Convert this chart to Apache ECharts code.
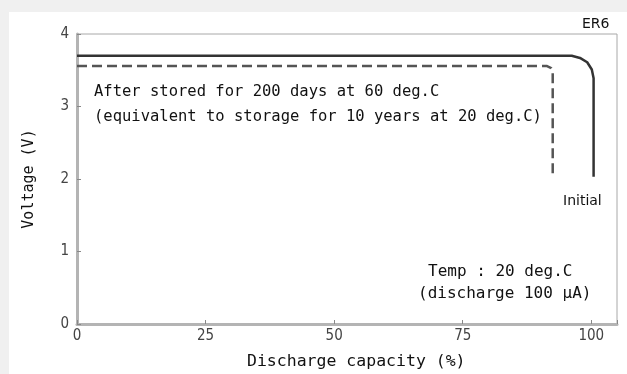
<!DOCTYPE html>
<html><head><meta charset="utf-8">
<script src="https://cdn.jsdelivr.net/npm/echarts@6/dist/echarts.min.js"></script>
<style>html,body{margin:0;padding:0;background:#f0f0f0}#c{width:627px;height:374px}</style>
</head><body><div id="c"></div>
<script>
const xTicks = [0, 25, 50, 75, 100];
const yTicks = [0, 1, 2, 3, 4];
const initialCurve = [[0,3.70],[96.2,3.70],[97.8,3.67],[99.2,3.61],[100.1,3.51],[100.45,3.39],[100.45,2.03]];
const storedCurve = [[0,3.56],[91.3,3.56],[92.2,3.53],[92.5,3.46],[92.5,2.05]];
const labels = {
  unit: 'ER6',
  initial: 'Initial',
  stored1: 'After stored for 200 days at 60 deg.C',
  stored2: '(equivalent to storage for 10 years at 20 deg.C)',
  temp1: 'Temp : 20 deg.C',
  temp2: '(discharge 100 \u03bcA)',
  xName: 'Discharge capacity (%)',
  yName: 'Voltage (V)'
};
const MONO = '"DejaVu Sans Mono"';
const COND = '"DejaVu Sans Condensed", "Liberation Sans", sans-serif';
const chart = echarts.init(document.getElementById('c'));
const txt = (x, y, t, size, fam) => ({type:'text', left:x, top:y, z:10,
  style:{text:t, fill:'#111', font:size + 'px ' + (fam || MONO)}});
chart.setOption({
  backgroundColor:'#f0f0f0',
  animation:false,
  grid:{left:77, right:10, top:34, bottom:50, show:true, borderColor:'#a8a8a8', borderWidth:1, backgroundColor:'#fff'},
  graphic:[
    {type:'rect', left:9, top:12, z:-10, shape:{width:620, height:370}, style:{fill:'#fff'}},
    txt(582, 17, labels.unit, 14, '"DejaVu Sans"'),
    txt(94, 84, labels.stored1, 15.5),
    txt(94, 109, labels.stored2, 15.5),
    txt(563, 194, labels.initial, 14, '"DejaVu Sans"'),
    txt(428, 264, labels.temp1, 16),
    txt(418, 286, labels.temp2, 16),
    txt(247, 353, labels.xName, 16.5)
  ],
  xAxis:{type:'value', min:0, max:105, interval:25,
    axisLine:{show:true, lineStyle:{color:'#b4b4b4', width:3}},
    axisTick:{show:true, inside:true, length:4, lineStyle:{color:'#888'}},
    axisLabel:{color:'#444', fontSize:15, fontFamily:COND, margin:5,
      formatter:v => xTicks.includes(v) ? String(v) : ''},
    splitLine:{show:false}},
  yAxis:{type:'value', min:0, max:4, interval:1,
    name:labels.yName, nameLocation:'middle', nameGap:40, nameRotate:90,
    nameTextStyle:{color:'#111', fontSize:15, fontFamily:'DejaVu Sans Mono'},
    axisLine:{show:true, lineStyle:{color:'#b4b4b4', width:3}},
    axisTick:{show:true, inside:true, length:4, lineStyle:{color:'#888'}},
    axisLabel:{color:'#444', fontSize:15, fontFamily:COND, margin:8,
      formatter:v => yTicks.includes(v) ? String(v) : ''},
    splitLine:{show:false}},
  series:[
    {type:'line', data:initialCurve, showSymbol:false,
      lineStyle:{color:'#333', width:2.5}},
    {type:'line', data:storedCurve, showSymbol:false,
      lineStyle:{color:'#555', width:2.5, type:[10,5]}}
  ]
});
</script></body></html>
